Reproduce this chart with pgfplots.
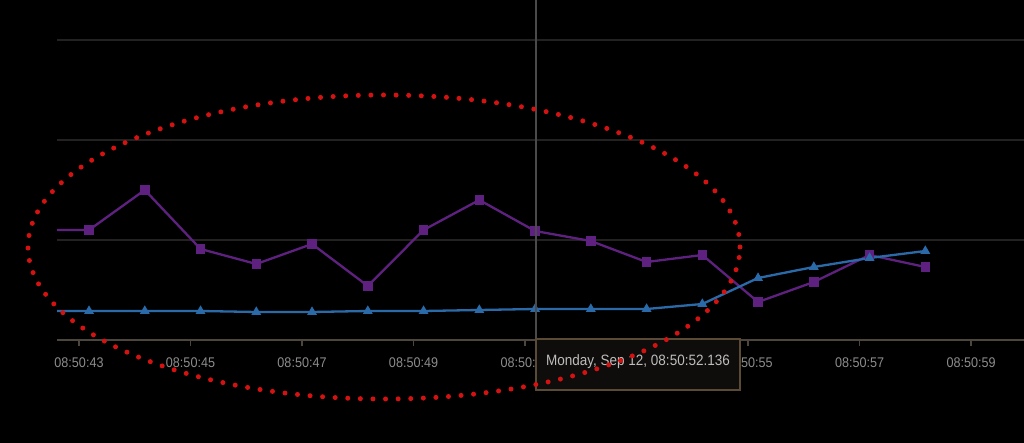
\documentclass[border=0pt]{standalone}
\usepackage{pgfplots}
\pgfplotsset{compat=1.18}
\usepackage{fontspec}
\setmainfont{Liberation Sans}
\newfontfamily\lab{Liberation Sans}[FakeStretch=0.9]
\definecolor{pur}{HTML}{5F2180}
\definecolor{blu}{HTML}{2A6AA8}
\definecolor{gridc}{HTML}{242220}
\definecolor{axc}{HTML}{4D463D}
\definecolor{labc}{HTML}{8C8C8C}
\definecolor{tipc}{HTML}{BDBDBD}
\definecolor{tipb}{HTML}{5A4A36}
\definecolor{tipf}{HTML}{0E0D0B}
\definecolor{dotred}{HTML}{D41212}
\definecolor{crossc}{HTML}{4A4A4A}
\begin{document}
\begin{tikzpicture}
\fill[black] (-57pt,-103pt) rectangle (967pt,340pt);
\begin{axis}[
  at={(0pt,0pt)}, anchor=south west,
  scale only axis, width=967pt, height=340pt,
  xmin=42.6054, xmax=59.95, ymin=0, ymax=3.4,
  axis x line*=bottom,
  y axis line style={draw=none},
  x axis line style={draw=axc, line width=1.5pt},
  xtick={43,45,47,49,51,53,55,57,59},
  xticklabels={08:50:43,08:50:45,08:50:47,08:50:49,08:50:51,{},08:50:55,08:50:57,08:50:59},
  xticklabel style={font=\lab\fontsize{14}{14}\selectfont, text=labc, anchor=center, yshift=-17pt},
  xtick style={draw=axc, line width=1.2pt},
  major tick length=6pt, tick align=outside, xtick pos=bottom,
  ytick={1,2,3}, yticklabels={}, ytick style={draw=none},
  ymajorgrids, grid style={draw=gridc, line width=1.5pt},
]
\addplot[pur, line width=2.3pt, mark=square*, mark size=3.6pt, mark indices={1,...,16}, mark options={fill=pur, draw=pur}] coordinates {
(42.18,1.10) (43.18,1.10) (44.18,1.50) (45.18,0.91) (46.18,0.76) (47.18,0.96) (48.18,0.54) (49.18,1.10) (50.18,1.40) (51.18,1.09) (52.18,0.99) (53.18,0.78) (54.18,0.85) (55.18,0.38) (56.18,0.58) (57.18,0.85) (58.18,0.73)
};
\addplot[blu, line width=2.3pt, mark=triangle*, mark size=3.4pt, mark indices={1,...,16}, mark options={fill=blu, draw=blu}] coordinates {
(42.18,0.29) (43.18,0.29) (44.18,0.29) (45.18,0.29) (46.18,0.28) (47.18,0.28) (48.18,0.29) (49.18,0.29) (50.18,0.30) (51.18,0.31) (52.18,0.31) (53.18,0.31) (54.18,0.36) (55.18,0.62) (56.18,0.73) (57.18,0.82) (58.18,0.89)
};
\end{axis}
\draw[crossc, line width=1.4pt] (479pt,0pt) -- (479pt,340pt);
\draw[tipb, fill=tipf, line width=1.8pt] (479pt,1pt) rectangle (683pt,-50pt);
\node[text=tipc, font=\lab\fontsize{15}{15}\selectfont, inner sep=0pt] at (581pt,-22pt) {Monday, Sep 12, 08:50:52.136};
\draw[dotred, line width=5pt, line cap=round, dash pattern=on 0pt off 12.6pt] (327pt,93pt) ellipse [x radius=356pt, y radius=152pt];
\pgfresetboundingbox
\useasboundingbox (-57pt,-103pt) rectangle (967pt,340pt);
\end{tikzpicture}
\end{document}
